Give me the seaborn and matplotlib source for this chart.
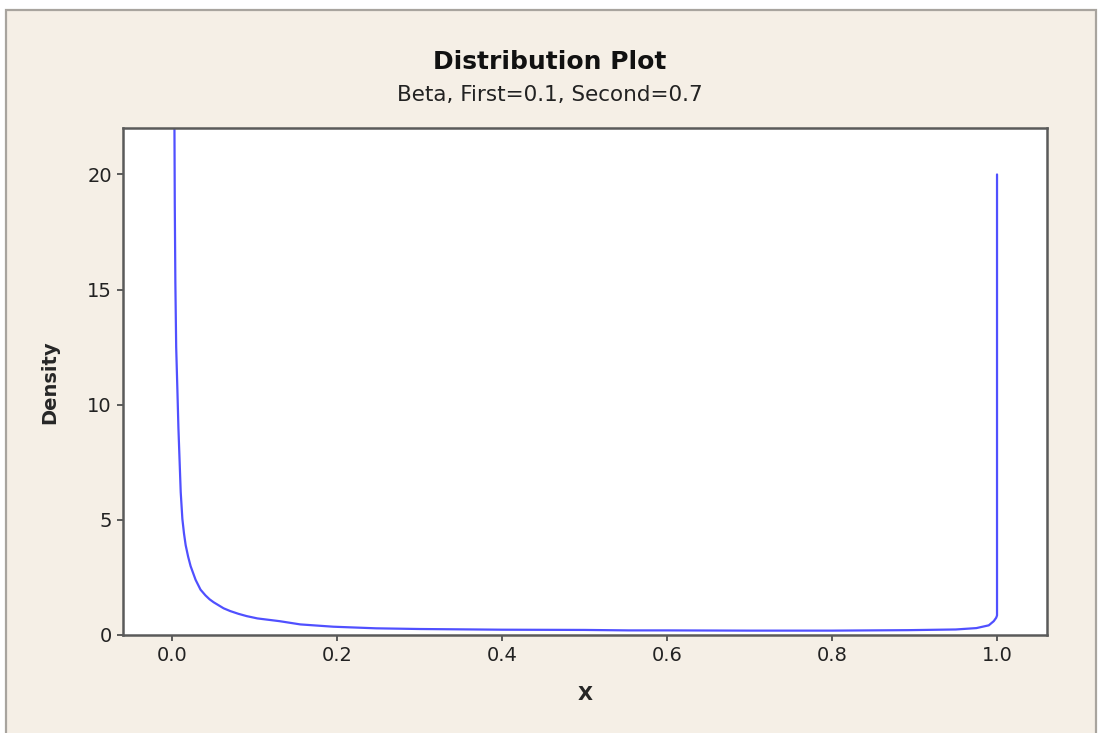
import matplotlib
matplotlib.use('Agg')
import matplotlib.pyplot as plt
import seaborn as sns
from matplotlib.patches import Rectangle

# values
x_vals = [0.0024, 0.0028, 0.0035, 0.0045, 0.006, 0.0072, 0.0085, 0.010, 0.012,
          0.014, 0.016, 0.019, 0.022, 0.028, 0.034, 0.040, 0.045, 0.050, 0.062,
          0.070, 0.080, 0.090, 0.103, 0.13, 0.155, 0.195, 0.247, 0.30, 0.334,
          0.40, 0.50, 0.553, 0.60, 0.70, 0.80, 0.892, 0.95, 0.975, 0.99,
          0.996, 0.999, 1.0, 1.0]
density = [22.0, 18.7, 15.3, 12.5, 10.6, 9.0, 7.7, 6.2, 5.04,
           4.4, 3.9, 3.4, 2.99, 2.4, 1.97, 1.72, 1.55, 1.42, 1.16,
           1.04, 0.92, 0.82, 0.72, 0.6, 0.46, 0.36, 0.29, 0.26, 0.25,
           0.23, 0.22, 0.2, 0.2, 0.19, 0.19, 0.21, 0.24, 0.3, 0.42,
           0.6, 0.75, 0.85, 20.0]
x_ticks = [0.0, 0.2, 0.4, 0.6, 0.8, 1.0]
y_ticks = [0, 5, 10, 15, 20]

title = 'Distribution Plot'
subtitle = 'Beta, First=0.1, Second=0.7'

sns.set_style('ticks')
plt.rcParams['font.family'] = ['DejaVu Sans']

BEIGE = '#F5EFE6'
SPINE = '#5a5a5a'

fig = plt.figure(figsize=(10.99, 7.33), dpi=100, facecolor='white')
# outer beige panel with grey frame (top/left/right)
panel = Rectangle((6 / 1099, -0.02), 1090 / 1099, 0.02 + 1 - 10 / 733,
                  transform=fig.transFigure, facecolor=BEIGE,
                  edgecolor='#a8a49e', linewidth=1.6, zorder=-10)
fig.add_artist(panel)

ax = fig.add_axes([123 / 1099, 1 - 635 / 733, (1046.5 - 123) / 1099, (635 - 128.4) / 733])
ax.set_zorder(1)
ax.set_facecolor('white')

sns.lineplot(x=x_vals, y=density, ax=ax, sort=False, estimator=None,
             color='#5050ff', linewidth=1.6)

ax.set_xlim(-0.06, 1.06)
ax.set_ylim(0, 22)
ax.set_xticks(x_ticks)
ax.set_xticklabels([f'{t:.1f}' for t in x_ticks])
ax.set_yticks(y_ticks)

for s in ax.spines.values():
    s.set_color(SPINE)
    s.set_linewidth(1.8)
ax.tick_params(axis='both', direction='out', length=4, width=1.4, color=SPINE,
               labelsize=14, labelcolor='#222222', pad=4)
ax.tick_params(top=False, right=False)

ax.set_xlabel('X', fontsize=14, fontweight='bold', labelpad=14)
ax.set_ylabel('Density', fontsize=14, fontweight='bold', labelpad=20)

fig.text(0.5, 1 - 62 / 733, title, ha='center', va='center',
         fontsize=18, fontweight='bold', color='#111111')
fig.text(0.5, 1 - 95 / 733, subtitle, ha='center', va='center',
         fontsize=15.5, color='#222222')

fig.savefig('out.png', dpi=100, facecolor=fig.get_facecolor())
